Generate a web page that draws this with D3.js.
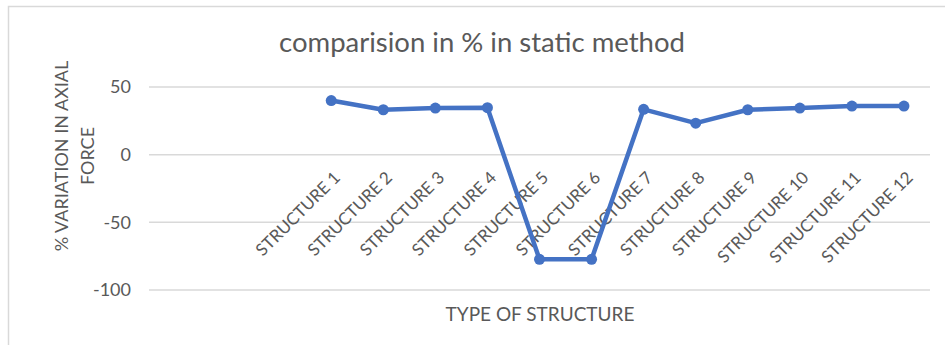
<!DOCTYPE html>
<html>
<head>
<meta charset="utf-8">
<script src="https://cdn.jsdelivr.net/npm/d3@7"></script>
<style>
  html, body { margin: 0; padding: 0; background: #fff; }
  svg { display: block; }
  text { font-family: Lato, "Open Sans", sans-serif; fill: #595959; }
</style>
</head>
<body>
<svg id="chart" width="945" height="345"></svg>
<script>
// Category slots along the horizontal axis (the first three are empty)
const categories = ["", "", "", "STRUCTURE 1", "STRUCTURE 2", "STRUCTURE 3", "STRUCTURE 4",
  "STRUCTURE 5", "STRUCTURE 6", "STRUCTURE 7", "STRUCTURE 8", "STRUCTURE 9",
  "STRUCTURE 10", "STRUCTURE 11", "STRUCTURE 12"];
// % variation in axial force for each slot
const values = [null, null, null, 40, 33.2, 34.4, 34.7, -77.3, -77.3, 33.5, 23.3, 33.2, 34.4, 35.9, 35.9];
const yTicks = [-100, -50, 0, 50];

const title = "comparision in % in static method";
const xTitle = "TYPE OF STRUCTURE";
const yTitleLines = ["% VARIATION IN AXIAL", "FORCE"];

const svg = d3.select("#chart");
const W = 945, H = 345;
const plot = { left: 149, right: 930, top: 87, bottom: 290 };

// chart frame
svg.append("rect")
  .attr("x", 8.5).attr("y", 6.5)
  .attr("width", W + 20).attr("height", H + 20)
  .attr("fill", "#fff").attr("stroke", "#d9d9d9").attr("stroke-width", 1.5);

const x = d3.scaleBand()
  .domain(d3.range(categories.length))
  .range([plot.left, plot.right]);

const y = d3.scaleLinear()
  .domain([-100, 50])
  .range([plot.bottom, plot.top]);

// horizontal gridlines
svg.append("g")
  .selectAll("line")
  .data(yTicks)
  .join("line")
  .attr("x1", plot.left).attr("x2", plot.right)
  .attr("y1", d => y(d)).attr("y2", d => y(d))
  .attr("stroke", "#d9d9d9").attr("stroke-width", 1.5);

// value axis labels (plain hyphen for negatives)
const yAxis = d3.axisLeft(y).tickValues(yTicks).tickFormat(d => String(d)).tickSize(0).tickPadding(0);
const gy = svg.append("g").attr("transform", `translate(${plot.left - 18},0)`).call(yAxis);
gy.select(".domain").remove();
gy.selectAll("text")
  .style("font-size", "18px")
  .style("font-family", "Lato, 'Open Sans', sans-serif")
  .attr("fill", "#595959");

// category axis labels, rotated, placed beside the zero line
const xAxis = d3.axisBottom(x).tickFormat(i => categories[i]).tickSize(0).tickPadding(0);
const gx = svg.append("g").attr("transform", `translate(0,${y(0)})`).call(xAxis);
gx.select(".domain").remove();
gx.selectAll("text")
  .style("font-size", "17px")
  .style("font-family", "Lato, 'Open Sans', sans-serif")
  .attr("fill", "#595959")
  .attr("text-anchor", "end")
  .attr("dy", "0")
  .attr("transform", "translate(10,24) rotate(-45)")
  .attr("y", 0).attr("x", 0);

// series line
const points = values.map((v, i) => ({ i, v })).filter(d => d.v !== null);
const line = d3.line()
  .x(d => x(d.i) + x.bandwidth() / 2)
  .y(d => y(d.v));

svg.append("path")
  .datum(points)
  .attr("d", line)
  .attr("fill", "none")
  .attr("stroke", "#4472c4")
  .attr("stroke-width", 4.5)
  .attr("stroke-linejoin", "round")
  .attr("stroke-linecap", "round");

svg.append("g")
  .selectAll("circle")
  .data(points)
  .join("circle")
  .attr("cx", d => x(d.i) + x.bandwidth() / 2)
  .attr("cy", d => y(d.v))
  .attr("r", 5.5)
  .attr("fill", "#4472c4");

// chart title
svg.append("text")
  .attr("x", 482).attr("y", 52)
  .attr("text-anchor", "middle")
  .style("font-size", "27.5px")
  .text(title);

// horizontal axis title
svg.append("text")
  .attr("x", 540).attr("y", 321)
  .attr("text-anchor", "middle")
  .style("font-size", "19px")
  .text(xTitle);

// vertical axis title (two lines)
const yt = svg.append("text")
  .attr("transform", "translate(0,156) rotate(-90)")
  .attr("text-anchor", "middle")
  .style("font-size", "18px");
yt.selectAll("tspan")
  .data(yTitleLines)
  .join("tspan")
  .attr("x", 0)
  .attr("y", (d, i) => 68 + i * 26)
  .text(d => d);
</script>
</body>
</html>
